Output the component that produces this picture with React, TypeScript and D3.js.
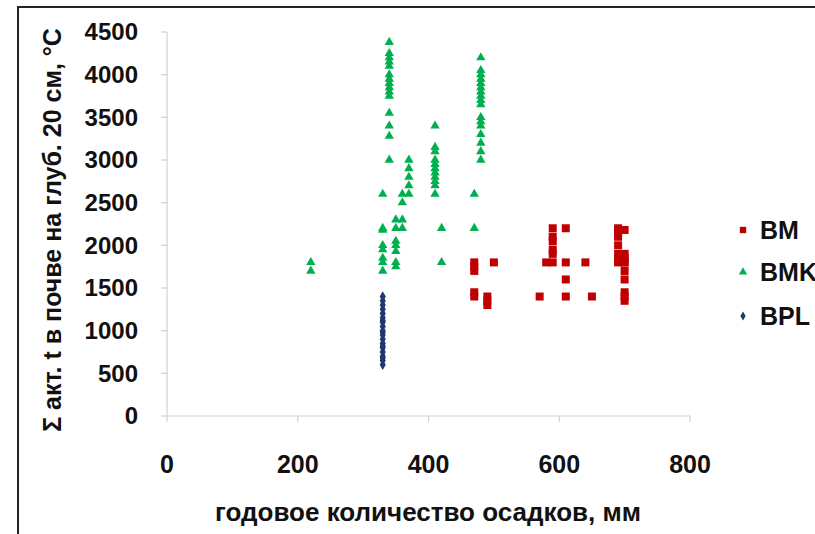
import React from "react";
import * as d3 from "d3";

// Series BM (red squares): [precipitation mm, sum of active t °C]
const bmX = [470, 470, 470, 470, 470, 490, 490, 490, 500, 570, 580, 590, 590, 590, 590, 590, 590, 610, 610, 610, 610, 640, 650, 690, 690, 690, 690, 690, 690, 690, 700, 700, 700, 700, 700, 700, 700, 700, 700, 700];
const bmY = [1800, 1750, 1700, 1450, 1400, 1400, 1350, 1300, 1800, 1400, 1800, 2200, 2100, 2050, 1950, 1900, 1800, 2200, 1800, 1600, 1400, 1800, 1400, 2200, 2150, 2100, 2000, 1900, 1850, 1800, 2180, 1900, 1850, 1800, 1700, 1600, 1450, 1400, 1350, 1800];

// Series BMK (green triangles)
const bmkX = [220, 220,
  330, 330, 330, 330, 330, 330, 330, 330,
  340, 340, 340, 340, 340, 340, 340, 340, 340, 340, 340, 340, 340, 340, 340,
  350, 350, 350, 350, 350, 350, 350,
  360, 360, 360, 360,
  370, 370, 370, 370, 370,
  410, 410, 410, 410, 410, 410, 410, 410, 410, 410, 410,
  420, 420,
  470, 470,
  480, 480, 480, 480, 480, 480, 480, 480, 480, 480, 480, 480, 480, 480, 480, 480, 480];
const bmkY = [1800, 1700,
  2600, 2200, 2180, 2000, 1950, 1850, 1800, 1700,
  4380, 4250, 4200, 4150, 4100, 4000, 3950, 3900, 3850, 3800, 3750, 3550, 3400, 3280, 3000,
  2300, 2200, 2050, 2000, 1930, 1800, 1750,
  2600, 2500, 2300, 2200,
  3000, 2900, 2800, 2700, 2600,
  3400, 3150, 3100, 3000, 2950, 2900, 2850, 2800, 2750, 2700, 2600,
  2200, 1800,
  2600, 2200,
  4200, 4050, 4000, 3950, 3900, 3850, 3800, 3750, 3700, 3500, 3450, 3400, 3300, 3200, 3100, 3000, 3650];

// Series BPL (navy diamonds)
const bplX = [330, 330, 330, 330, 330, 330, 330, 330, 330, 330, 330, 330, 330, 330, 330, 330, 330, 330, 330, 330, 330];
const bplY = [600, 650, 680, 700, 750, 800, 820, 850, 900, 950, 980, 1000, 1050, 1100, 1120, 1150, 1200, 1250, 1300, 1350, 1400];

const xTicks = [0, 200, 400, 600, 800];
const yTicks = [0, 500, 1000, 1500, 2000, 2500, 3000, 3500, 4000, 4500];
const legendNames = ["BM", "BMK", "BPL"];

const xTitle = "годовое количество осадков, мм";
const yTitle = "Σ акт. t в почве на глуб. 20 см, °C";

const RED = "#C00000";
const GREEN = "#00B050";
const NAVY = "#1F3870";
const FONT = "'Liberation Sans', Arial, sans-serif";

export default function App() {
  const x = d3.scaleLinear().domain([0, 800]).range([167, 690]);
  const y = d3.scaleLinear().domain([0, 4500]).range([416, 32]);

  const sq = 8;
  const tri = d3.symbol().type(d3.symbolTriangle).size(38)() as string;
  const dia = d3.symbol().type(d3.symbolDiamond).size(32)() as string;
  const sqPath = d3.symbol().type(d3.symbolSquare).size(40)() as string;
  const triLeg = d3.symbol().type(d3.symbolTriangle).size(30)() as string;
  const diaLeg = d3.symbol().type(d3.symbolDiamond).size(24)() as string;

  const [x0, x1] = x.range();
  const [y0, y1] = y.range();

  return (
    <svg width={815} height={534} style={{ position: "absolute", left: 0, top: 0, background: "#fff" }}>
      <rect x={0} y={0} width={815} height={534} fill="#fff" />
      <rect x={18} y={7} width={900} height={600} fill="none" stroke="#222" strokeWidth={2} />

      {/* axes */}
      <line x1={x0} x2={x0} y1={y1} y2={y0} stroke="#d0d0d0" strokeWidth={1.2} />
      <line x1={x0} x2={x1} y1={y0} y2={y0} stroke="#d0d0d0" strokeWidth={1.2} />
      {yTicks.map((t) => (
        <g key={"y" + t}>
          <line x1={x0 - 6} x2={x0} y1={y(t)} y2={y(t)} stroke="#d0d0d0" strokeWidth={1.2} />
          <text x={138} y={y(t)} dy="0.35em" textAnchor="end" fontFamily={FONT} fontWeight="bold" fontSize={24} fill="#111">{t}</text>
        </g>
      ))}
      {xTicks.map((t) => (
        <g key={"x" + t}>
          <line x1={x(t)} x2={x(t)} y1={y0} y2={y0 + 6} stroke="#d0d0d0" strokeWidth={1.2} />
          <text x={x(t)} y={464} dy="0.35em" textAnchor="middle" fontFamily={FONT} fontWeight="bold" fontSize={25} fill="#111">{t}</text>
        </g>
      ))}

      <text x={428} y={521} textAnchor="middle" fontFamily={FONT} fontWeight="bold" fontSize={26} fill="#111">{xTitle}</text>
      <text transform={`translate(61,230) rotate(-90)`} textAnchor="middle" fontFamily={FONT} fontWeight="bold" fontSize={25} fill="#111">{yTitle}</text>

      {/* BPL */}
      {bplX.map((v, i) => (
        <path key={"p" + i} d={dia} transform={`translate(${x(v)},${y(bplY[i])})`} fill={NAVY} />
      ))}
      {/* BMK */}
      {bmkX.map((v, i) => (
        <path key={"k" + i} d={tri} transform={`translate(${x(v)},${y(bmkY[i])})`} fill={GREEN} />
      ))}
      {/* BM */}
      {bmX.map((v, i) => (
        <rect key={"m" + i} x={x(v) - sq / 2} y={y(bmY[i]) - sq / 2} width={sq} height={sq} fill={RED} />
      ))}

      {/* legend */}
      <path d={sqPath} transform="translate(743,230)" fill={RED} />
      <path d={triLeg} transform="translate(743,272)" fill={GREEN} />
      <path d={diaLeg} transform="translate(743,316)" fill={NAVY} />
      {legendNames.map((n, i) => (
        <text key={n} x={760} y={[230, 272, 316][i]} dy="0.36em" fontFamily={FONT} fontWeight="bold" fontSize={25} fill="#111">{n}</text>
      ))}
    </svg>
  );
}
